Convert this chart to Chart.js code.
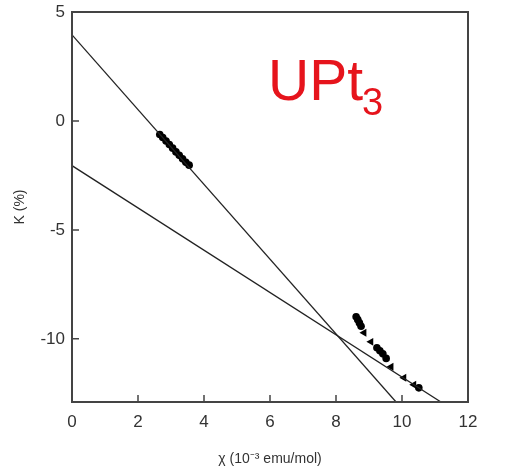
<!DOCTYPE html>
<html>
<head>
<meta charset="utf-8">
<script src="https://cdn.jsdelivr.net/npm/chart.js@4"></script>
<style>
  html, body { margin: 0; padding: 0; background: #fff; }
  #wrap { width: 514px; height: 472px; }
</style>
</head>
<body>
<div id="wrap"><canvas id="kchi"></canvas></div>
<script>
// K vs chi, UPt3

// fit lines (end points)
const fitA_chi = [0, 9.82];
const fitA_k = [3.95, -12.9];
const fitB_chi = [0, 11.18];
const fitB_k = [-2.05, -12.9];

// measured points, circles
const dotChi = [2.66, 2.75, 2.85, 2.95, 3.05, 3.15, 3.25, 3.35, 3.45, 3.55,
                8.61, 8.66, 8.71, 8.76, 9.24, 9.33, 9.42, 9.52, 10.51];
const dotK = [-0.62, -0.76, -0.92, -1.08, -1.25, -1.42, -1.58, -1.74, -1.9, -2.03,
              -8.99, -9.12, -9.27, -9.42, -10.41, -10.55, -10.69, -10.9, -12.25];

// measured points, triangles
const triChi = [8.85, 9.06, 9.67, 10.06, 10.36];
const triK = [-9.72, -10.14, -11.28, -11.79, -12.11];

const xTicks = [0, 2, 4, 6, 8, 10, 12];
const yTicks = [5, 0, -5, -10];

const FONT = "'Liberation Sans', Arial, sans-serif";
const INK = '#222';

function pts(xs, ys) {
    return xs.map((x, i) => ({ x: x, y: ys[i] }));
}

// frame, inward ticks and the label
const decor = {
    id: 'decor',
    afterDraw(chart) {
        const c = chart.ctx;
        const a = chart.chartArea;
        const xs = chart.scales.x, ys = chart.scales.y;
        c.save();
        c.strokeStyle = '#444';
        c.lineWidth = 2;
        c.strokeRect(a.left, a.top, a.right - a.left, a.bottom - a.top);
        c.lineWidth = 1.5;
        c.beginPath();
        xTicks.forEach(v => {
            const px = xs.getPixelForValue(v);
            c.moveTo(px, a.bottom);
            c.lineTo(px, a.bottom - 7);
        });
        yTicks.forEach(v => {
            const py = ys.getPixelForValue(v);
            c.moveTo(a.left, py);
            c.lineTo(a.left + 7, py);
        });
        c.stroke();

        c.fillStyle = 'rgb(230,20,28)';
        c.textBaseline = 'alphabetic';
        c.font = '57px ' + FONT;
        c.fillText('UPt', 268, 100);
        c.font = '38px ' + FONT;
        c.fillText('3', 362, 115);
        c.restore();
    }
};

new Chart(document.getElementById('kchi'), {
    type: 'scatter',
    data: {
        datasets: [
            {
                data: pts(fitA_chi, fitA_k),
                showLine: true,
                borderColor: INK,
                borderWidth: 1.3,
                pointRadius: 0
            },
            {
                data: pts(fitB_chi, fitB_k),
                showLine: true,
                borderColor: INK,
                borderWidth: 1.3,
                pointRadius: 0
            },
            {
                data: pts(dotChi, dotK),
                pointStyle: 'circle',
                pointRadius: 3.8,
                backgroundColor: '#000',
                borderColor: '#000',
                borderWidth: 0
            },
            {
                data: pts(triChi, triK),
                pointStyle: 'triangle',
                rotation: -90,
                pointRadius: 4.6,
                backgroundColor: '#000',
                borderColor: '#000',
                borderWidth: 0
            }
        ]
    },
    options: {
        responsive: true,
        maintainAspectRatio: false,
        animation: false,
        layout: { padding: { top: 12, right: 46, left: 0, bottom: 0 } },
        plugins: {
            legend: { display: false },
            tooltip: { enabled: false }
        },
        scales: {
            x: {
                type: 'linear',
                min: 0,
                max: 12,
                afterBuildTicks: s => { s.ticks = xTicks.map(v => ({ value: v })); },
                afterFit: s => { s.height = 70; s.paddingLeft = 0; s.paddingRight = 0; },
                grid: { display: false, drawTicks: false },
                border: { display: false },
                ticks: {
                    color: '#333',
                    padding: 10,
                    font: { family: FONT, size: 17 }
                },
                title: {
                    display: true,
                    text: 'χ (10⁻³ emu/mol)',
                    color: '#333',
                    padding: { top: 14 },
                    font: { family: FONT, size: 14 }
                }
            },
            y: {
                type: 'linear',
                min: -12.9,
                max: 5,
                afterBuildTicks: s => { s.ticks = yTicks.map(v => ({ value: v })); },
                afterFit: s => { s.width = 72; s.paddingTop = 0; s.paddingBottom = 0; },
                grid: { display: false, drawTicks: false },
                border: { display: false },
                ticks: {
                    color: '#333',
                    padding: 7,
                    font: { family: FONT, size: 17 }
                },
                title: {
                    display: true,
                    text: 'K (%)',
                    color: '#333',
                    padding: { top: 12, bottom: 4 },
                    font: { family: FONT, size: 14 }
                }
            }
        }
    },
    plugins: [decor]
});
</script>
</body>
</html>
